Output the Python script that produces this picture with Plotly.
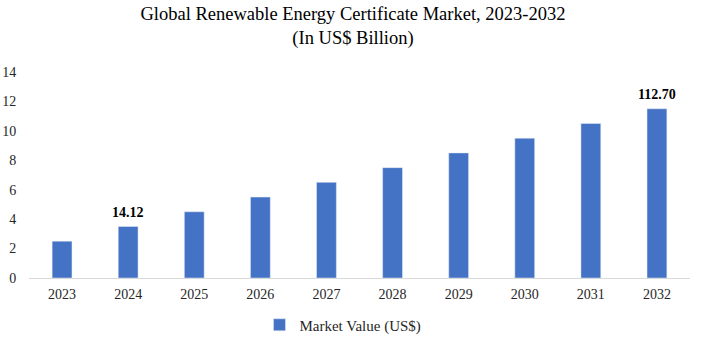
import plotly.graph_objects as go

years = ["2023", "2024", "2025", "2026", "2027", "2028", "2029", "2030", "2031", "2032"]
values = [2.5, 3.5, 4.5, 5.5, 6.5, 7.5, 8.5, 9.5, 10.5, 11.5]
labels = ["", "14.12", "", "", "", "", "", "", "", "112.70"]
y_ticks = [0, 2, 4, 6, 8, 10, 12, 14]

font_family = "Liberation Serif, DejaVu Serif, serif"

fig = go.Figure()
fig.add_trace(go.Bar(
    x=years, y=values, name="Market Value (US$)",
    marker=dict(color="#4472C4"),
    width=0.3,
))
# category axis: annotation x given as category index
for i, (v, lab) in enumerate(zip(values, labels)):
    if lab:
        fig.add_annotation(x=i, y=v, text="<b>" + lab + "</b>", showarrow=False,
                           yanchor="bottom", yshift=5,
                           font=dict(family=font_family, size=14, color="#000000"))

fig.update_layout(
    width=706, height=340,
    margin=dict(l=29, r=16, t=72, b=62),
    paper_bgcolor="white", plot_bgcolor="white",
    title=dict(
        text="Global Renewable Energy Certificate Market, 2023-2032<br>(In US$ Billion)",
        x=0.5, xanchor="center", y=0.94, yanchor="middle",
        font=dict(family=font_family, size=18.5, color="#000000"),
    ),
    font=dict(family=font_family, size=14, color="#262626"),
    showlegend=True,
    legend=dict(orientation="h", x=0.475, xanchor="center", yref="container",
                y=0.044, yanchor="middle",
                font=dict(size=15, color="#262626")),
    bargap=0.7,
)
fig.update_xaxes(type="category", automargin=False, showline=True, linecolor="#D9D9D9",
                 linewidth=1, ticks="outside", ticklen=3, tickcolor="rgba(0,0,0,0)",
                 showgrid=False)
fig.update_yaxes(range=[0, 14], tickvals=y_ticks, automargin=False, showgrid=False,
                 zeroline=False, showline=False, ticks="outside", ticklen=9,
                 tickcolor="rgba(0,0,0,0)")

fig.write_html("out.html")
